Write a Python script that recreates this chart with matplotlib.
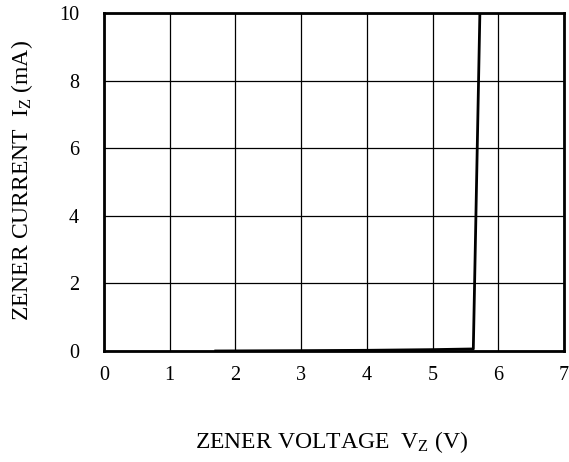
import matplotlib
matplotlib.use("Agg")
import matplotlib.pyplot as plt

voltage = [1.7, 3.0, 4.0, 5.0, 5.62, 5.72]
current = [0.0, 0.01, 0.02, 0.04, 0.06, 10.0]
x_ticks = [0, 1, 2, 3, 4, 5, 6, 7]
y_ticks = [0, 2, 4, 6, 8, 10]
x_label = r'ZENER VOLTAGE  V$_{\mathregular{Z}}$ (V)'
y_label = r'ZENER CURRENT  I$_{\mathregular{Z}}$ (mA)'

plt.rcParams['font.family'] = ['Liberation Serif', 'DejaVu Serif']
plt.rcParams['mathtext.fontset'] = 'custom'
plt.rcParams['mathtext.rm'] = 'Liberation Serif'
plt.rcParams['mathtext.it'] = 'Liberation Serif'
plt.rcParams['mathtext.default'] = 'regular'

fig = plt.figure(figsize=(5.69, 4.62), dpi=100)
ax = fig.add_axes([0.1828, 0.2403, 0.8084, 0.7316])

ax.set_xlim(0, 7)
ax.set_ylim(0, 10)
ax.set_xticks(x_ticks)
ax.set_yticks(y_ticks)
ax.grid(True, color='black', linewidth=0.9)
ax.set_axisbelow(True)
for s in ax.spines.values():
    s.set_linewidth(2)
ax.tick_params(length=0, labelsize=14.5)
ax.tick_params(axis='x', pad=10.5)
ax.tick_params(axis='y', pad=18)

ax.plot(voltage, current, color='black', linewidth=2)

fig.text(0.582, 0.043, x_label, fontsize=17, ha='center', va='center')
fig.text(0.039, 0.61, y_label, fontsize=17, ha='center', va='center', rotation=90)

fig.savefig('out.png', dpi=100)
